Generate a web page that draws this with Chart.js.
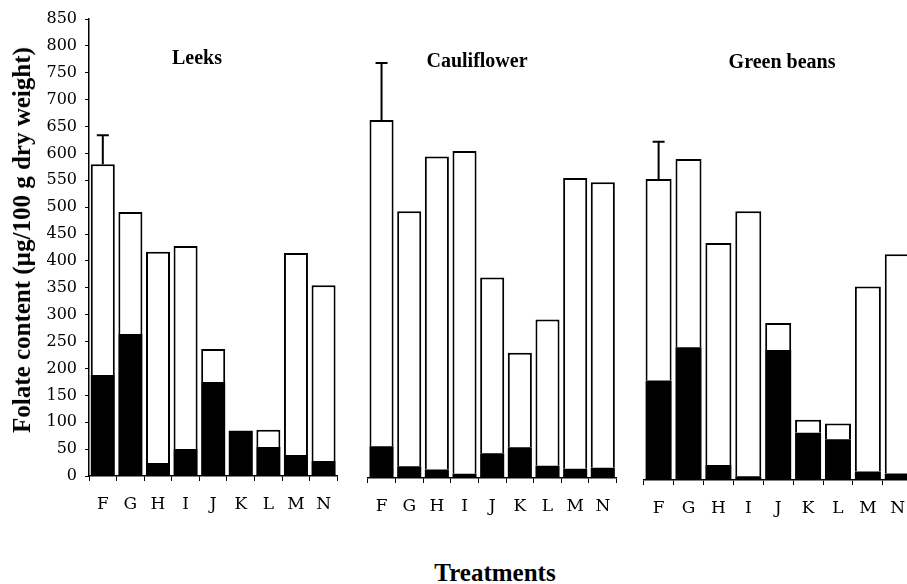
<!DOCTYPE html>
<html>
<head>
<meta charset="utf-8">
<script src="https://cdn.jsdelivr.net/npm/chart.js@4.4.0/dist/chart.umd.min.js"></script>
<style>
  body { margin: 0; width: 907px; height: 584px; overflow: hidden; background: #fff; position: relative; }
  canvas { position: absolute; }
  .lbl {
    position: absolute;
    font-family: "Liberation Serif", "Times New Roman", serif;
    font-weight: bold;
    color: #000;
    white-space: nowrap;
    transform: translate(-50%, -50%);
  }
</style>
</head>
<body>
<canvas id="leeks-chart" width="344" height="520" style="left:0;top:0"></canvas>
<canvas id="cauliflower-chart" width="260" height="520" style="left:363px;top:2px"></canvas>
<canvas id="beans-chart" width="278" height="520" style="left:640px;top:4px"></canvas>

<div class="lbl" style="left:197px;top:57px;font-size:20px">Leeks</div>
<div class="lbl" style="left:477px;top:60px;font-size:20px">Cauliflower</div>
<div class="lbl" style="left:782px;top:61px;font-size:20px">Green beans</div>
<div class="lbl" style="left:22px;top:240px;font-size:25px;transform:translate(-50%,-50%) rotate(-90deg)">Folate content (µg/100 g dry weight)</div>
<div class="lbl" style="left:495px;top:573px;font-size:25px">Treatments</div>

<script>
// Treatment codes along each panel
const categories = ['F', 'G', 'H', 'I', 'J', 'K', 'L', 'M', 'N'];

// Total folate (bar height) and the dark lower part, µg/100 g dry weight
const leeksTotal = [580, 491, 417, 428, 236, 84, 86, 415, 355];
const leeksDark = [188, 264, 24, 50, 175, 84, 54, 39, 28];
const leeksErr = [54, null, null, null, null, null, null, null, null];

const cauliflowerTotal = [666, 496, 598, 608, 373, 233, 295, 558, 550];
const cauliflowerDark = [59, 22, 16, 8, 46, 57, 23, 17, 19];
const cauliflowerErr = [106, null, null, null, null, null, null, null, null];

const beansTotal = [560, 597, 441, 500, 292, 112, 105, 360, 420];
const beansDark = [185, 247, 28, 7, 242, 88, 76, 16, 12];
const beansErr = [69, null, null, null, null, null, null, null, null];

// Y axis range
const yMin = 0;
const yMax = 850;
const yStep = 50;

/**
 * Upward error bar on top of a stacked bar
 */
const errorBars = {
  id: 'errorBars',
  afterDatasetsDraw(chart, args, opts) {
    const { ctx, scales: { x, y } } = chart;
    ctx.save();
    ctx.strokeStyle = '#000';
    ctx.lineWidth = 2;
    opts.errors.forEach((e, i) => {
      if (e == null) return;
      const px = x.getPixelForValue(i);
      const y0 = y.getPixelForValue(opts.totals[i]);
      const y1 = y.getPixelForValue(opts.totals[i] + e);
      ctx.beginPath();
      ctx.moveTo(px, y0);
      ctx.lineTo(px, y1);
      ctx.moveTo(px - 6, y1);
      ctx.lineTo(px + 6, y1);
      ctx.stroke();
    });
    ctx.restore();
  }
};

function makePanel(id, totals, dark, errors, showY) {
  const upper = totals.map((t, i) => t - dark[i]);
  return new Chart(document.getElementById(id), {
    type: 'bar',
    data: {
      labels: categories,
      datasets: [
        {
          data: dark,
          backgroundColor: '#000',
          borderWidth: 0,
          barPercentage: 0.87,
          categoryPercentage: 1
        },
        {
          data: upper,
          backgroundColor: '#fff',
          borderColor: '#000',
          borderWidth: 2,
          barPercentage: 0.87,
          categoryPercentage: 1
        }
      ]
    },
    options: {
      responsive: false,
      animation: false,
      layout: { padding: { top: 19, left: 0, right: 0, bottom: 0 } },
      plugins: {
        legend: { display: false },
        tooltip: { enabled: false },
        errorBars: { errors: errors, totals: totals }
      },
      scales: {
        x: {
          stacked: true,
          offset: true,
          afterFit: (scale) => { scale.height = 44; },
          grid: {
            offset: true,
            drawOnChartArea: false,
            drawTicks: true,
            tickLength: 5,
            color: '#000',
            lineWidth: 1
          },
          border: { display: true, color: '#000', width: 1.5 },
          ticks: {
            color: '#000',
            padding: 13,
            maxRotation: 0,
            font: { family: 'DejaVu Serif', size: 17 }
          }
        },
        y: {
          display: showY,
          stacked: true,
          min: yMin,
          max: yMax,
          afterFit: (scale) => { if (showY) scale.width = 89; },
          grid: {
            drawOnChartArea: false,
            drawTicks: true,
            tickLength: 4,
            color: '#000'
          },
          border: { display: true, color: '#000', width: 1.5 },
          ticks: {
            stepSize: yStep,
            autoSkip: false,
            color: '#000',
            padding: 8,
            font: { family: 'DejaVu Serif', size: 16 }
          }
        }
      }
    },
    plugins: [errorBars]
  });
}

makePanel('leeks-chart', leeksTotal, leeksDark, leeksErr, true);
makePanel('cauliflower-chart', cauliflowerTotal, cauliflowerDark, cauliflowerErr, false);
makePanel('beans-chart', beansTotal, beansDark, beansErr, false);
</script>
</body>
</html>
